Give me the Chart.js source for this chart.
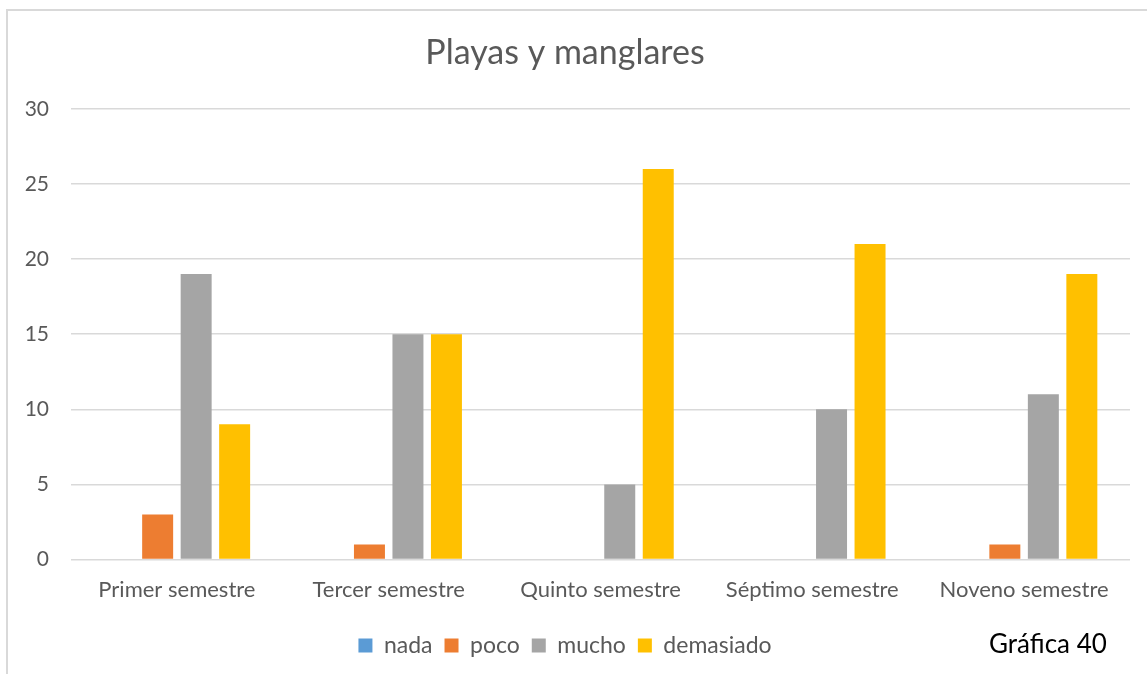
<!DOCTYPE html>
<html lang="es">
<head>
    <meta charset="UTF-8">
    <title>Playas y manglares</title>
    <script src="https://cdn.jsdelivr.net/npm/chart.js@4/dist/chart.umd.min.js"></script>
    <style>
        body {
            margin: 0;
            background: #ffffff;
            font-family: Lato, sans-serif;
        }
        .wrap {
            position: relative;
            width: 1147px;
            height: 674px;
            overflow: hidden;
        }
        #note {
            position: absolute;
            left: 989px;
            top: 628px;
            font-size: 26px;
            line-height: 30px;
            color: #000000;
            white-space: nowrap;
        }
    </style>
</head>
<body>
    <div class="wrap">
        <canvas id="chart" width="1147" height="674"></canvas>
        <div id="note">Gráfica 40</div>
    </div>

    <script>
        const categories = ['Primer semestre', 'Tercer semestre', 'Quinto semestre', 'Séptimo semestre', 'Noveno semestre'];
        const nada = [0, 0, 0, 0, 0];
        const poco = [3, 1, 0, 0, 1];
        const mucho = [19, 15, 5, 10, 11];
        const demasiado = [9, 15, 26, 21, 19];
        const yTicks = [0, 5, 10, 15, 20, 25, 30];

        const textColor = '#595959';
        const gridColor = '#D9D9D9';

        // marco gris claro alrededor del gráfico
        const frame = {
            id: 'frame',
            beforeDraw(chart) {
                const ctx = chart.ctx;
                ctx.save();
                ctx.strokeStyle = gridColor;
                ctx.lineWidth = 2;
                ctx.beginPath();
                ctx.moveTo(7, 674);
                ctx.lineTo(7, 10);
                ctx.lineTo(1147, 10);
                ctx.stroke();
                ctx.restore();
            }
        };

        function serie(label, data, color) {
            return {
                label: label,
                data: data,
                backgroundColor: color,
                borderWidth: 0,
                categoryPercentage: 0.727,
                barPercentage: 0.805
            };
        }

        new Chart(document.getElementById('chart'), {
            type: 'bar',
            data: {
                labels: categories,
                datasets: [
                    serie('nada', nada, '#5B9BD5'),
                    serie('poco', poco, '#ED7D31'),
                    serie('mucho', mucho, '#A5A5A5'),
                    serie('demasiado', demasiado, '#FFC000')
                ]
            },
            options: {
                responsive: false,
                animation: false,
                layout: {
                    padding: { left: 0, right: 17, top: 0, bottom: 7 }
                },
                plugins: {
                    title: {
                        display: true,
                        text: 'Playas y manglares',
                        color: textColor,
                        font: { family: 'Lato', size: 34, weight: 'normal' },
                        padding: { top: 33, bottom: 35 }
                    },
                    legend: {
                        position: 'bottom',
                        labels: {
                            color: textColor,
                            boxWidth: 14,
                            boxHeight: 14,
                            padding: 12,
                            font: { family: 'Lato', size: 23 }
                        }
                    },
                    tooltip: { enabled: false }
                },
                scales: {
                    x: {
                        grid: { display: false, drawTicks: false },
                        border: { display: false },
                        ticks: {
                            color: textColor,
                            padding: 17,
                            font: { family: 'Lato', size: 22 }
                        },
                        afterFit(scale) {
                            scale.height += 2;
                        }
                    },
                    y: {
                        min: 0,
                        max: 30,
                        afterBuildTicks(scale) {
                            scale.ticks = yTicks.map(v => ({ value: v }));
                        },
                        grid: { color: gridColor, lineWidth: 1.5, drawTicks: false },
                        border: { display: false },
                        ticks: {
                            color: textColor,
                            padding: 22,
                            font: { family: 'Lato', size: 21 }
                        },
                        afterFit(scale) {
                            scale.width = 71;
                        }
                    }
                }
            },
            plugins: [frame]
        });
    </script>
</body>
</html>
